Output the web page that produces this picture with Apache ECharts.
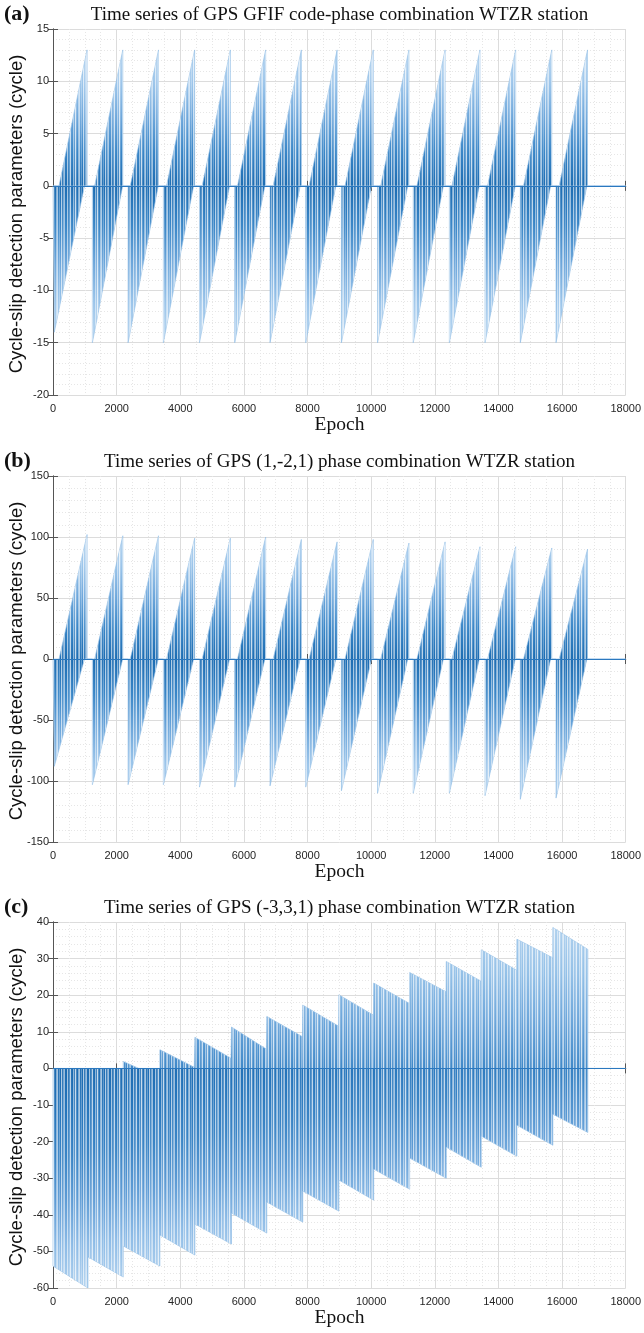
<!DOCTYPE html>
<html><head><meta charset="utf-8">
<script src="https://cdn.jsdelivr.net/npm/echarts@6/dist/echarts.min.js"></script>
<style>html,body{margin:0;padding:0;background:#fff}#c{width:644px;height:1333px}</style>
</head><body><div id="c"></div>
<script>
// ---------------- DATA ----------------
const epochTicks = [0, 2000, 4000, 6000, 8000, 10000, 12000, 14000, 16000, 18000];

// Panel (a): GFIF code-phase combination
const aRampStart   = [190, 1310, 2430, 3570, 4690, 5800, 6920, 8050, 9180, 10300, 11440, 12540, 13660, 14790, 15910];
const aPeakEpoch   = [1071, 2194, 3316, 4452, 5574, 6684, 7806, 8929, 10065, 11187, 12323, 13419, 14542, 15677, 16800];
const aPeakVal     = [13, 13, 13, 13, 13, 13, 13, 13, 13, 13, 13, 13, 13, 13, 13];
const aTroughEpoch = [40, 1238, 2360, 3469, 4604, 5712, 6821, 7943, 9065, 10200, 11322, 12457, 13579, 14688, 15810];
const aTroughVal   = [-14, -15, -15, -15, -15, -15, -15, -15, -15, -15, -15, -15, -15, -15, -15];
const aTroughEnd   = [990, 2190, 3310, 4420, 5550, 6660, 7770, 8890, 10010, 11150, 12270, 13400, 14530, 15640, 16780];

// Panel (b): (1,-2,1) phase combination
const bRampStart   = [190, 1310, 2430, 3570, 4690, 5800, 6920, 8050, 9180, 10300, 11440, 12540, 13660, 14790, 15910];
const bPeakEpoch   = [1071, 2194, 3316, 4452, 5574, 6684, 7806, 8929, 10065, 11187, 12323, 13419, 14542, 15677, 16800];
const bPeakVal     = [102, 101, 101, 99, 99, 100, 98, 96, 98, 95, 96, 92, 92, 91, 90];
const bTroughEpoch = [40, 1238, 2360, 3469, 4604, 5712, 6821, 7943, 9065, 10200, 11322, 12457, 13579, 14688, 15810];
const bTroughVal   = [-88, -103, -103, -103, -105, -105, -104, -105, -108, -110, -110, -110, -112, -115, -114];
const bTroughEnd   = [990, 2190, 3310, 4420, 5550, 6660, 7770, 8890, 10010, 11150, 12270, 13400, 14530, 15640, 16780];

// Panel (c): (-3,3,1) phase combination
const cBreaks   = [0, 1100, 2208, 3360, 4460, 5610, 6720, 7850, 8985, 10080, 11210, 12360, 13460, 14580, 15710, 16810];
const cLowStart = [-54, -51.5, -48.5, -45.5, -42.5, -39.5, -36.5, -33.5, -30.5, -27.5, -24.5, -21.5, -18.5, -15.5, -12.5];
const cLowEnd   = [-60, -57, -54, -51, -48, -45, -42, -39, -36, -33, -30, -27, -24, -21, -17.5];
const cUpStartEpoch = [2208, 3360, 4460, 5610, 6720, 7850, 8985, 10080, 11210, 12360, 13460, 14580, 15710];
const cUpStartVal   = [1.9, 5.1, 8.5, 11.3, 14.2, 17.3, 20.1, 23.3, 26.2, 29.2, 32.4, 35.3, 38.5];
const cUpEndEpoch   = [2700, 4440, 5590, 6700, 7830, 8965, 10060, 11190, 12340, 13440, 14560, 15690, 16810];
const cUpEndVal     = [0, 0.3, 2.8, 5.3, 8.7, 11.6, 14.6, 17.8, 21.0, 23.9, 26.9, 30.3, 32.5];

const titles = [
  'Time series of GPS GFIF code-phase combination WTZR station',
  'Time series of GPS (1,-2,1) phase combination WTZR station',
  'Time series of GPS (-3,3,1) phase combination WTZR station'
];
const letters = ['(a)', '(b)', '(c)'];
const yRanges = [[-20, 15, 5], [-150, 150, 50], [-60, 40, 10]];
const yTitle = 'Cycle-slip detection parameters (cycle)';
const xTitle = 'Epoch';
const X_MAX = epochTicks[epochTicks.length - 1];

// ---------------- build envelopes ----------------
function posEnv(rs, pe, pv) {
  const d = [[0, 0]];
  for (let i = 0; i < pe.length; i++) d.push([rs[i], 0], [pe[i], pv[i]], [pe[i], 0]);
  d.push([X_MAX, 0]);
  return d;
}
function negEnv(te, tv, tend) {
  const d = [[0, 0]];
  for (let i = 0; i < te.length; i++) d.push([te[i], 0], [te[i], tv[i]], [tend[i], 0]);
  d.push([X_MAX, 0]);
  return d;
}
function cNeg() {
  const d = [[0, 0]];
  for (let k = 0; k < cLowStart.length; k++) d.push([cBreaks[k], cLowStart[k]], [cBreaks[k + 1], cLowEnd[k]]);
  d.push([cBreaks[cBreaks.length - 1], 0], [X_MAX, 0]);
  return d;
}
function cPos() {
  const d = [[0, 0]];
  for (let k = 0; k < cUpStartEpoch.length; k++) {
    d.push([cUpStartEpoch[k], 0], [cUpStartEpoch[k], cUpStartVal[k]], [cUpEndEpoch[k], cUpEndVal[k]]);
    if (cUpEndVal[k] > 0) d.push([cUpEndEpoch[k], 0]);
  }
  d.push([X_MAX, 0]);
  return d;
}

// ---------------- styling ----------------
function stripes() {
  const seq = [0, 0.6, 0.1, 0.25, 0.7, 0.05, 0, 0.5, 0.15, 0.75, 0.2, 0, 0.45, 0.6, 0.05, 0.3, 0, 0.65, 0.1, 0.4, 0.55, 0];
  const cv = document.createElement('canvas');
  cv.width = seq.length; cv.height = 4;
  const g = cv.getContext('2d');
  seq.forEach((a, i) => { g.fillStyle = 'rgba(255,255,255,' + a + ')'; g.fillRect(i, 0, 1, 4); });
  return cv;
}
const pat = stripes();
function grad(up, stops, x2, y2) {
  const s = up ? stops.slice().reverse() : stops;
  return { type: 'linear', x: 0, y: 0, x2: x2 === undefined ? 0 : x2, y2: y2 === undefined ? 1 : y2,
    colorStops: s.map((c, i, arr) => ({ offset: i / (arr.length - 1), color: c })) };
}
const palAB = ['#1c6cb2', '#3a86c7', '#6ea7db', '#9cc5ea', '#bcd8f1'];
const palCneg = ['#1b69af', '#2675bb', '#3a84c5', '#5f9cd5', '#8dbbe6', '#b0d1ee'];
const palCpos = ['#3f88c8', '#6ba5da', '#93c0e7', '#b0d1ee'];

const grids = [], xAxes = [], yAxes = [], series = [], graphics = [];
const tops = [29, 476, 922], H = 366, L = 53, R = 18;
const font = 'Liberation Sans, Arial, sans-serif';
const serif = 'Liberation Serif, Times New Roman, serif';

tops.forEach((top, p) => {
  grids.push({ left: L, right: R, top: top, height: H });
  const axisLine = { show: true, lineStyle: { color: '#555', width: 1 } };
  const tick = { show: true, inside: true, length: 5, lineStyle: { color: '#555' } };
  const splitLine = { show: true, lineStyle: { color: '#dcdcdc', width: 1 } };
  const minorSplit = { show: true, lineStyle: { color: '#e6e6e6', width: 1, type: [1, 2] } };
  xAxes.push({ type: 'value', gridIndex: p, min: 0, max: X_MAX, interval: 2000, position: 'bottom',
    axisLine, axisTick: tick, splitLine, minorTick: { show: false, splitNumber: 4 }, minorSplitLine: minorSplit,
    axisLabel: { color: '#262626', fontFamily: font, fontSize: 11, margin: 8, formatter: v => String(v) } });
  xAxes.push({ type: 'value', gridIndex: p, min: 0, max: X_MAX, interval: 2000, position: 'top',
    axisLine, axisTick: tick, splitLine: { show: false }, axisLabel: { show: false } });
  const [mn, mx, iv] = yRanges[p];
  yAxes.push({ type: 'value', gridIndex: p, min: mn, max: mx, interval: iv, position: 'left',
    axisLine, axisTick: tick, splitLine, minorTick: { show: false, splitNumber: 5 }, minorSplitLine: minorSplit,
    axisLabel: { color: '#262626', fontFamily: font, fontSize: 11, margin: 4, formatter: v => String(v) } });
  yAxes.push({ type: 'value', gridIndex: p, min: mn, max: mx, interval: iv, position: 'right',
    axisLine, axisTick: tick, splitLine: { show: false }, axisLabel: { show: false } });

  graphics.push({ type: 'text', x: 4, y: top - 15, style: { text: letters[p], font: 'bold 22px ' + serif, fill: '#111', textAlign: 'left', textVerticalAlign: 'middle' } });
  graphics.push({ type: 'text', x: L + (644 - L - R) / 2, y: top - 14, style: { text: titles[p], font: '19px ' + serif, fill: '#111', textAlign: 'center', textVerticalAlign: 'middle' } });
  graphics.push({ type: 'text', x: L + (644 - L - R) / 2, y: top + H + 30, style: { text: xTitle, font: '19.5px ' + serif, fill: '#111', textAlign: 'center', textVerticalAlign: 'middle' } });
  graphics.push({ type: 'text', x: 17, y: top + H / 2 + 2, rotation: Math.PI / 2, style: { text: yTitle, font: '18.5px ' + font, fill: '#111', textAlign: 'center', textVerticalAlign: 'middle' } });
});

function addArea(p, data, fill) {
  const xi = p * 2, yi = p * 2;
  series.push({ type: 'line', xAxisIndex: xi, yAxisIndex: yi, data, symbol: 'none', z: 2,
    lineStyle: { width: 0.6, color: '#8bbbe4' }, areaStyle: { color: fill, opacity: 1, origin: 0 }, silent: true });
  series.push({ type: 'line', xAxisIndex: xi, yAxisIndex: yi, data, symbol: 'none', z: 3,
    lineStyle: { width: 0 }, areaStyle: { color: { image: pat, repeat: 'repeat' }, opacity: 1, origin: 0 }, silent: true });
}
addArea(0, posEnv(aRampStart, aPeakEpoch, aPeakVal), grad(true, palAB));
addArea(0, negEnv(aTroughEpoch, aTroughVal, aTroughEnd), grad(false, palAB));
addArea(1, posEnv(bRampStart, bPeakEpoch, bPeakVal), grad(true, palAB));
addArea(1, negEnv(bTroughEpoch, bTroughVal, bTroughEnd), grad(false, palAB));
addArea(2, cPos(), grad(true, palCpos));
addArea(2, cNeg(), grad(false, palCneg, 0.06, 1));
[0, 1, 2].forEach(p => series.push({ type: 'line', xAxisIndex: p * 2, yAxisIndex: p * 2, data: [], z: 5,
  markLine: { silent: true, symbol: 'none', label: { show: false }, lineStyle: { color: '#2b78bf', width: 1.2, type: 'solid' }, data: [{ yAxis: 0 }] } }));

const chart = echarts.init(document.getElementById('c'), null, { renderer: 'canvas' });
chart.setOption({ animation: false, backgroundColor: '#fff', grid: grids, xAxis: xAxes, yAxis: yAxes, series, graphic: graphics });
</script></body></html>
